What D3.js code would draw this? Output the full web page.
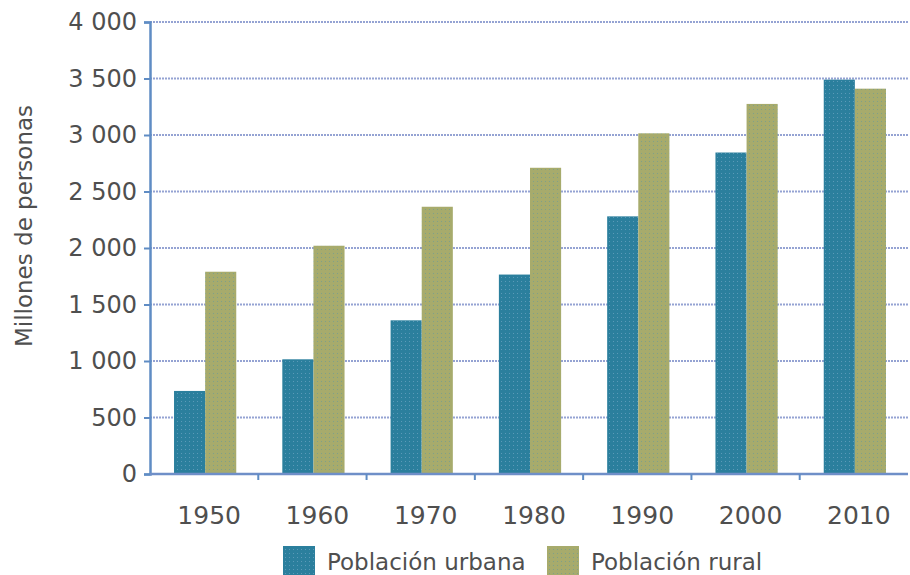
<!DOCTYPE html>
<html>
<head>
<meta charset="utf-8">
<script src="https://cdn.jsdelivr.net/npm/d3@7"></script>
<style>
  html, body { margin: 0; padding: 0; background: #fff; }
  svg { display: block; font-family: "DejaVu Sans", Verdana, sans-serif; }
</style>
</head>
<body>
<svg id="chart" width="910" height="575"></svg>
<script>
// Población urbana y rural en el mundo (millones de personas)
const years = ["1950", "1960", "1970", "1980", "1990", "2000", "2010"];
const urbana = [735, 1015, 1360, 1765, 2280, 2845, 3490];
const rural = [1790, 2020, 2365, 2710, 3015, 3275, 3410];
const yTicks = [0, 500, 1000, 1500, 2000, 2500, 3000, 3500, 4000];
const seriesNames = ["Población urbana", "Población rural"];
const seriesColors = ["#2b7f9d", "#a7ab6c"];
const dotColors = ["#5b9ab8", "#7fa08a"];

const svg = d3.select("#chart");
const margin = { left: 150, right: 2 };
const W = 910;
const textColor = "#4f4f4f";

const x0 = d3.scaleBand().domain(years).range([margin.left, W - margin.right]).paddingInner(0).paddingOuter(0);
const x1 = d3.scaleBand().domain([0, 1]).range([0, x0.bandwidth()]).paddingOuter(0.74).paddingInner(0);
const y = d3.scaleLinear().domain([0, 4000]).range([474, 22]);

// dotted fill textures
const defs = svg.append("defs");
seriesColors.forEach((c, i) => {
  const p = defs.append("pattern").attr("id", "tex" + i)
    .attr("width", 4).attr("height", 4).attr("patternUnits", "userSpaceOnUse");
  p.append("rect").attr("width", 4).attr("height", 4).attr("fill", c);
  p.append("rect").attr("x", 1).attr("y", 1).attr("width", 1).attr("height", 1).attr("fill", dotColors[i]);
});

const fmt = v => v === 0 ? "0" : d3.format(",")(v).replace(/,/g, " ");

// grid lines
svg.append("g").selectAll("line").data(yTicks.filter(t => t > 0)).join("line")
  .attr("x1", margin.left).attr("x2", W - 2)
  .attr("y1", d => y(d)).attr("y2", d => y(d))
  .attr("stroke", "#95a3d3").attr("stroke-width", 2).attr("stroke-dasharray", "2,1");

// bars
const series = [urbana, rural];
const g = svg.append("g");
years.forEach((yr, i) => {
  series.forEach((s, k) => {
    g.append("rect")
      .attr("x", x0(yr) + x1(k) + 1)
      .attr("y", y(s[i]))
      .attr("width", x1.bandwidth())
      .attr("height", y(0) - y(s[i]))
      .attr("fill", "url(#tex" + k + ")");
  });
});

// y axis
const yAxis = d3.axisLeft(y).tickValues(yTicks).tickFormat(fmt).tickSize(6).tickPadding(7);
const ya = svg.append("g").attr("transform", `translate(${margin.left},0)`).call(yAxis);
ya.select(".domain").attr("stroke", "#5f8cc4").attr("stroke-width", 2.5);
ya.selectAll(".tick line").attr("stroke", "#5f8cc4").attr("stroke-width", 2);
ya.selectAll(".tick text").attr("fill", textColor).attr("font-size", 24)
  .attr("font-family", "DejaVu Sans, Verdana, sans-serif");

// x axis
const xa = svg.append("g").attr("transform", `translate(0,${y(0)})`);
xa.append("line").attr("x1", margin.left).attr("x2", W - 2).attr("stroke", "#6f8fc8").attr("stroke-width", 2.5);
xa.selectAll(".sep").data(years.slice(1)).join("line").attr("class", "sep")
  .attr("x1", d => x0(d)).attr("x2", d => x0(d)).attr("y1", 0).attr("y2", 6)
  .attr("stroke", "#5f8cc4").attr("stroke-width", 2);
xa.selectAll(".lbl").data(years).join("text").attr("class", "lbl")
  .attr("x", d => x0(d) + x0.bandwidth() / 2 + 5).attr("y", 50)
  .attr("text-anchor", "middle").attr("fill", textColor).attr("font-size", 25)
  .text(d => d);

// y-axis title
svg.append("text").attr("transform", "translate(32,226) rotate(-90)")
  .attr("text-anchor", "middle").attr("fill", textColor).attr("font-size", 23)
  .text("Millones de personas");

// legend
const legX = [283, 547];
seriesNames.forEach((n, k) => {
  svg.append("rect").attr("x", legX[k]).attr("y", 546).attr("width", 32).attr("height", 29)
    .attr("fill", "url(#tex" + k + ")");
  svg.append("text").attr("x", legX[k] + 44).attr("y", 570)
    .attr("fill", textColor).attr("font-size", 23).text(n);
});
</script>
</body>
</html>
